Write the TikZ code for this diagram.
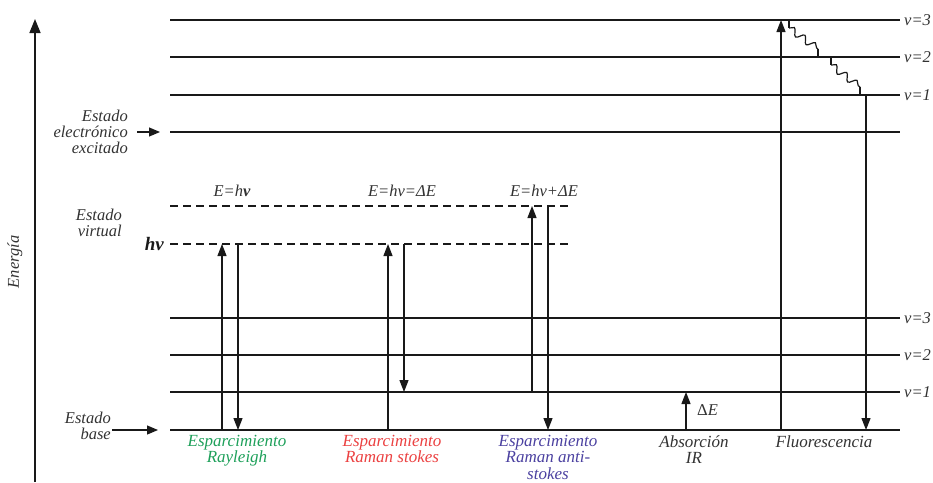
\documentclass[tikz,border=0pt]{standalone}
\usepackage{fontspec}
\setmainfont{Liberation Serif}
\usetikzlibrary{arrows.meta,decorations.pathmorphing}
\definecolor{txt}{RGB}{50,50,50}
\definecolor{lvl}{RGB}{25,25,25}
\definecolor{rgreen}{RGB}{30,160,90}
\definecolor{rred}{RGB}{235,65,65}
\definecolor{rblue}{RGB}{75,65,160}
\tikzset{
  level/.style={line width=1.8pt,draw=lvl},
  vlevel/.style={line width=1.8pt,draw=lvl,dash pattern=on 8pt off 5pt},
  tr/.style={line width=1.2pt,draw=lvl,-{Triangle[length=12pt,width=9pt]}},
  trn/.style={line width=1.2pt,draw=lvl},
  lbl/.style={text=txt,font=\fontsize{16.5}{16}\selectfont\itshape,inner sep=0pt},
  elbl/.style={text=txt,font=\fontsize{16.5}{16}\selectfont\itshape,inner sep=0pt},
  vlbl/.style={text=txt,font=\fontsize{16.5}{16}\selectfont\itshape,inner sep=0pt,anchor=west},
  blbl/.style={font=\fontsize{17}{16.5}\selectfont\itshape,inner sep=0pt,anchor=north,align=center},
  wavy/.style={line width=1.2pt,draw=lvl,decorate,decoration={snake,amplitude=3.5pt,segment length=13pt}}
}
\begin{document}
\begin{tikzpicture}[x=1pt,y=-1pt]
\useasboundingbox (0,0) rectangle (933,482);
% energy axis
\coordinate (ax0) at (35,482);
\coordinate (ax1) at (35,19);
\draw[line width=1.5pt,draw=lvl,-{Triangle[length=14pt,width=11pt]}] (ax0) -- (ax1);
\node[lbl,rotate=90] (energia) at (15,262) {Energía};
% upper electronic state levels
\coordinate (u3a) at (170,20); \coordinate (u3b) at (900,20);
\coordinate (u2a) at (170,57); \coordinate (u2b) at (900,57);
\coordinate (u1a) at (170,95); \coordinate (u1b) at (900,95);
\coordinate (exa) at (170,132); \coordinate (exb) at (900,132);
\draw[level] (u3a) -- (u3b);
\draw[level] (u2a) -- (u2b);
\draw[level] (u1a) -- (u1b);
\draw[level] (exa) -- (exb);
% virtual levels
\coordinate (vta) at (170,206); \coordinate (vtb) at (570,206);
\coordinate (hva) at (170,244); \coordinate (hvb) at (570,244);
\draw[vlevel] (vta) -- (vtb);
\draw[vlevel] (hva) -- (hvb);
% ground state levels
\coordinate (g3a) at (170,318); \coordinate (g3b) at (900,318);
\coordinate (g2a) at (170,355); \coordinate (g2b) at (900,355);
\coordinate (g1a) at (170,392); \coordinate (g1b) at (900,392);
\coordinate (g0a) at (170,430); \coordinate (g0b) at (900,430);
\draw[level] (g3a) -- (g3b);
\draw[level] (g2a) -- (g2b);
\draw[level] (g1a) -- (g1b);
\draw[level] (g0a) -- (g0b);
% v labels
\node[vlbl] (lu3) at (904,20) {v=3};
\node[vlbl] (lu2) at (904,57) {v=2};
\node[vlbl] (lu1) at (904,95) {v=1};
\node[vlbl] (lg3) at (904,318) {v=3};
\node[vlbl] (lg2) at (904,355) {v=2};
\node[vlbl] (lg1) at (904,392) {v=1};
% left labels
\node[lbl,align=right,anchor=east] (exc) at (128,132) {Estado\\electrónico\\excitado};
\coordinate (exarr0) at (137,132); \coordinate (exarr1) at (160,132);
\draw[line width=1.2pt,draw=lvl,-{Triangle[length=11pt,width=9pt]}] (exarr0) -- (exarr1);
\node[lbl,align=right,anchor=east] (virt) at (122,223) {Estado\\virtual};
\node[text=lvl,font=\fontsize{19}{19}\selectfont\bfseries\itshape,inner sep=0pt,anchor=east] (hv) at (164,244) {hν};
\node[lbl,align=right,anchor=east] (base) at (111,426) {Estado\\base};
\coordinate (barr0) at (112,430); \coordinate (barr1) at (158,430);
\draw[line width=1.2pt,draw=lvl,-{Triangle[length=11pt,width=9pt]}] (barr0) -- (barr1);
% energy labels on virtual level
\node[elbl] (e1) at (232,191) {E=h\textbf{ν}};
\node[elbl] (e2) at (402,191) {E=hν=ΔE};
\node[elbl] (e3) at (544,191) {E=hν+ΔE};
% Rayleigh
\coordinate (r1a) at (222,430); \coordinate (r1b) at (222,244);
\coordinate (r2a) at (238,244); \coordinate (r2b) at (238,430);
\draw[tr] (r1a) -- (r1b);
\draw[tr] (r2a) -- (r2b);
% Raman Stokes
\coordinate (s1a) at (388,430); \coordinate (s1b) at (388,244);
\coordinate (s2a) at (404,244); \coordinate (s2b) at (404,392);
\draw[tr] (s1a) -- (s1b);
\draw[tr] (s2a) -- (s2b);
% Raman anti-Stokes
\coordinate (a1a) at (532,392); \coordinate (a1b) at (532,206);
\coordinate (a2a) at (548,206); \coordinate (a2b) at (548,430);
\draw[tr] (a1a) -- (a1b);
\draw[tr] (a2a) -- (a2b);
% IR absorption
\coordinate (ir0) at (686,430); \coordinate (ir1) at (686,392);
\draw[tr] (ir0) -- (ir1);
\node[elbl,font=\fontsize{16.5}{16}\selectfont,anchor=west] (de) at (697,410) {Δ\textit{E}};
% Fluorescence
\coordinate (f0) at (781,430); \coordinate (f1) at (781,20);
\draw[tr] (f0) -- (f1);
\coordinate (w0) at (789,20); \coordinate (w1) at (789,28);
\coordinate (w2) at (818,49); \coordinate (w3) at (818,57);
\coordinate (w4) at (831,57); \coordinate (w5) at (831,65);
\coordinate (w6) at (860,87); \coordinate (w7) at (860,95);
\draw[trn] (w0) -- (w1);
\draw[wavy] (w1) -- (w2);
\draw[trn] (w2) -- (w3);
\draw[trn] (w4) -- (w5);
\draw[wavy] (w5) -- (w6);
\draw[trn] (w6) -- (w7);
\coordinate (fd0) at (866,95); \coordinate (fd1) at (866,430);
\draw[tr] (fd0) -- (fd1);
% bottom labels
\node[blbl,text=rgreen] (lray) at (237,435) {Esparcimiento\\Rayleigh};
\node[blbl,text=rred] (lsto) at (392,435) {Esparcimiento\\Raman stokes};
\node[blbl,text=rblue] (lant) at (548,435) {Esparcimiento\\Raman anti-\\stokes};
\node[blbl,text=txt] (lir) at (694,435) {Absorción\\IR};
\node[blbl,text=txt] (lflu) at (824,435) {Fluorescencia};
\end{tikzpicture}
\end{document}
